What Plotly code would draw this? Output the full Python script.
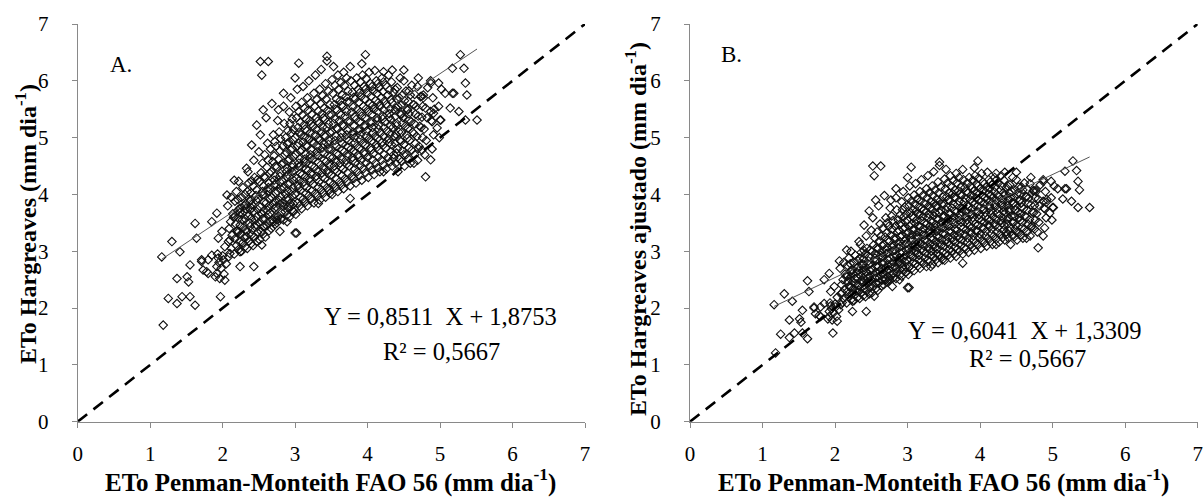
import plotly.graph_objects as go

# ---------------- data ----------------
# ETo Penman-Monteith (x), ETo Hargreaves (yA), ETo Hargreaves ajustado (yB)
xA = [
    1.16, 1.18, 1.25, 1.37, 1.44, 1.55, 1.62, 1.30, 1.41, 1.64, 1.62, 1.37, 1.51, 1.53, 1.55, 1.71, 1.73, 1.80, 1.97, 2.24, 2.43,
    1.71, 1.92, 1.90, 2.03, 1.94, 1.85, 2.06, 2.22, 1.85, 1.92, 1.94, 1.99, 2.03, 2.10, 2.08, 2.24, 2.20, 2.33, 2.45, 2.56,
    2.54, 2.75, 2.79, 3.00, 2.84, 2.98, 2.24, 2.38, 2.17, 2.01, 1.80, 1.78, 1.92, 1.95, 1.98, 2.00, 1.93, 2.05, 2.02, 1.96,
    2.33, 2.40, 2.47, 2.56, 2.52, 2.63, 2.54, 3.05, 2.84, 2.77, 3.44, 3.97, 5.28, 5.33, 5.35, 5.37, 5.51, 5.19, 5.14, 5.26,
    4.87, 4.80, 4.64, 5.00, 4.91, 3.76, 3.48, 3.32, 3.02, 2.89, 2.70, 2.93, 4.22, 4.36, 5.17, 5.07, 5.17, 5.35, 4.87, 4.98,
    4.70, 4.50, 4.34, 4.22, 4.77, 4.87, 4.96, 4.89, 4.70, 4.50,
    2.08, 2.12, 2.10, 2.13, 2.09, 2.11, 2.14, 2.07, 2.12,
    2.16, 2.19, 2.17, 2.20, 2.18, 2.15, 2.21, 2.17, 2.19, 2.16,
    2.26, 2.28, 2.25, 2.29, 2.27, 2.24, 2.30, 2.26, 2.28,
    2.34, 2.36, 2.33, 2.37, 2.35, 2.32, 2.38, 2.34, 2.36, 2.35,
    2.42, 2.44, 2.41, 2.45, 2.43, 2.40, 2.46, 2.42, 2.44, 2.43,
    2.51, 2.53, 2.50, 2.54, 2.52, 2.49, 2.55, 2.51, 2.53, 2.50, 2.52,
    2.59, 2.61, 2.58, 2.62, 2.60, 2.57, 2.63, 2.59, 2.61, 2.58, 2.62, 2.60,
    2.67, 2.69, 2.66, 2.70, 2.68, 2.65, 2.71, 2.67, 2.69, 2.66, 2.70, 2.68,
    2.75, 2.77, 2.74, 2.78, 2.76, 2.73, 2.79, 2.75, 2.77, 2.74, 2.78, 2.76,
    2.84, 2.86, 2.83, 2.87, 2.85, 2.82, 2.88, 2.84, 2.86, 2.83, 2.87, 2.85, 2.84,
    2.92, 2.94, 2.91, 2.95, 2.93, 2.90, 2.96, 2.92, 2.94, 2.91, 2.95, 2.93, 2.92, 2.94,
    3.01, 3.03, 3.00, 3.04, 3.02, 2.99, 3.05, 3.01, 3.03, 3.00, 3.04, 3.02, 3.01, 3.03, 3.00,
    3.09, 3.11, 3.08, 3.12, 3.10, 3.07, 3.13, 3.09, 3.11, 3.08, 3.12, 3.10, 3.09, 3.11,
    3.17, 3.19, 3.16, 3.20, 3.18, 3.15, 3.21, 3.17, 3.19, 3.16, 3.20, 3.18, 3.17, 3.19,
    3.26, 3.28, 3.25, 3.29, 3.27, 3.24, 3.30, 3.26, 3.28, 3.25, 3.29, 3.27, 3.26, 3.28,
    3.34, 3.36, 3.33, 3.37, 3.35, 3.32, 3.38, 3.34, 3.36, 3.33, 3.37, 3.35, 3.34, 3.36,
    3.42, 3.44, 3.41, 3.45, 3.43, 3.40, 3.46, 3.42, 3.44, 3.41, 3.45, 3.43, 3.42, 3.44,
    3.51, 3.53, 3.50, 3.54, 3.52, 3.49, 3.55, 3.51, 3.53, 3.50, 3.54, 3.52, 3.51, 3.53,
    3.59, 3.61, 3.58, 3.62, 3.60, 3.57, 3.63, 3.59, 3.61, 3.58, 3.62, 3.60, 3.59,
    3.67, 3.69, 3.66, 3.70, 3.68, 3.65, 3.71, 3.67, 3.69, 3.66, 3.70, 3.68, 3.67,
    3.76, 3.78, 3.75, 3.79, 3.77, 3.74, 3.80, 3.76, 3.78, 3.75, 3.79, 3.77, 3.76,
    3.84, 3.86, 3.83, 3.87, 3.85, 3.82, 3.88, 3.84, 3.86, 3.83, 3.87, 3.85,
    3.92, 3.94, 3.91, 3.95, 3.93, 3.90, 3.96, 3.92, 3.94, 3.91, 3.95, 3.93, 3.92,
    4.01, 4.03, 4.00, 4.04, 4.02, 3.99, 4.05, 4.01, 4.03, 4.00, 4.04, 4.02,
    4.09, 4.11, 4.08, 4.12, 4.10, 4.07, 4.13, 4.09, 4.11, 4.08, 4.12, 4.10,
    4.17, 4.19, 4.16, 4.20, 4.18, 4.15, 4.21, 4.17, 4.19, 4.16, 4.20,
    4.26, 4.28, 4.25, 4.29, 4.27, 4.24, 4.30, 4.26, 4.28, 4.25, 4.29,
    4.34, 4.36, 4.33, 4.37, 4.35, 4.32, 4.38, 4.34, 4.36, 4.33,
    4.42, 4.44, 4.41, 4.45, 4.43, 4.40, 4.46, 4.42, 4.44, 4.41, 4.45,
    4.51, 4.53, 4.50, 4.54, 4.52, 4.49, 4.55, 4.51, 4.53, 4.50,
    4.59, 4.61, 4.58, 4.62, 4.60, 4.57, 4.63, 4.59, 4.61,
    4.69, 4.71, 4.68, 4.72, 4.70, 4.67, 4.73, 4.69,
    4.79, 4.81, 4.78, 4.82, 4.80, 4.77, 4.83,
    4.89, 4.91, 4.88, 4.92, 4.90, 4.87,
    4.99, 5.01, 4.98, 5.02,
]

yA = [
    2.90, 1.70, 2.17, 2.08, 2.20, 2.20, 2.05, 3.17, 2.99, 3.23, 3.49, 2.52, 2.55, 2.46, 2.76, 2.82, 2.67, 2.61, 2.20, 2.73, 2.73,
    2.85, 2.73, 2.55, 2.49, 2.88, 2.93, 3.99, 4.23, 3.52, 3.67, 3.23, 3.35, 3.08, 2.96, 3.17, 2.99, 3.37, 3.26, 3.43, 3.43,
    3.11, 3.55, 3.35, 3.32, 3.79, 3.70, 3.76, 3.73, 3.61, 2.85, 2.85, 2.64, 2.61, 2.80, 2.70, 2.92, 2.95, 2.78, 2.60, 2.52,
    4.46, 4.87, 5.22, 5.49, 6.34, 6.34, 6.10, 6.31, 5.78, 5.49, 6.43, 6.46, 6.46, 6.22, 5.96, 5.75, 5.31, 5.78, 5.52, 5.46,
    4.61, 4.31, 4.55, 5.31, 5.43, 3.93, 4.02, 3.84, 3.32, 3.52, 3.52, 3.84, 4.40, 4.64, 6.22, 5.78, 5.78, 5.31, 5.96, 5.96,
    6.05, 6.19, 6.19, 6.16, 5.75, 5.46, 5.17, 5.28, 4.81, 4.70,
    2.90, 3.05, 3.20, 3.28, 3.40, 3.52, 3.66, 3.80, 3.95,
    2.95, 3.10, 3.22, 3.35, 3.48, 3.60, 3.72, 3.88, 4.05, 4.25,
    3.00, 3.15, 3.30, 3.42, 3.55, 3.68, 3.80, 3.95, 4.12,
    3.05, 3.18, 3.35, 3.50, 3.62, 3.75, 3.90, 4.05, 4.20, 4.40,
    3.10, 3.25, 3.38, 3.55, 3.70, 3.82, 3.98, 4.15, 4.30, 4.60,
    3.20, 3.35, 3.50, 3.65, 3.78, 3.92, 4.05, 4.22, 4.38, 4.75, 5.05,
    3.25, 3.45, 3.58, 3.72, 3.85, 4.00, 4.12, 4.30, 4.48, 4.70, 4.90, 5.35,
    3.40, 3.55, 3.68, 3.82, 3.95, 4.10, 4.25, 4.40, 4.58, 4.80, 5.05, 5.60,
    3.50, 3.62, 3.78, 3.90, 4.05, 4.18, 4.32, 4.48, 4.62, 4.85, 5.10, 5.30,
    3.55, 3.70, 3.85, 4.00, 4.12, 4.25, 4.40, 4.55, 4.70, 4.85, 5.00, 5.25, 5.55,
    3.60, 3.78, 3.92, 4.05, 4.20, 4.35, 4.48, 4.62, 4.78, 4.92, 5.08, 5.25, 5.45, 5.70,
    3.65, 3.85, 4.00, 4.15, 4.28, 4.42, 4.55, 4.70, 4.85, 5.00, 5.18, 5.35, 5.55, 5.85, 6.05,
    3.75, 3.92, 4.08, 4.22, 4.35, 4.50, 4.62, 4.78, 4.92, 5.05, 5.22, 5.40, 5.62, 5.90,
    3.80, 3.98, 4.12, 4.28, 4.42, 4.55, 4.70, 4.85, 4.98, 5.12, 5.30, 5.48, 5.70, 6.00,
    3.85, 4.02, 4.18, 4.32, 4.48, 4.62, 4.75, 4.90, 5.05, 5.20, 5.35, 5.55, 5.78, 6.10,
    3.90, 4.08, 4.22, 4.38, 4.52, 4.68, 4.82, 4.95, 5.10, 5.25, 5.42, 5.60, 5.85, 6.20,
    3.95, 4.12, 4.28, 4.42, 4.58, 4.72, 4.88, 5.02, 5.18, 5.32, 5.48, 5.68, 5.95, 6.35,
    4.00, 4.18, 4.35, 4.50, 4.65, 4.80, 4.95, 5.10, 5.25, 5.40, 5.58, 5.78, 6.02, 6.25,
    4.05, 4.22, 4.40, 4.55, 4.70, 4.85, 5.00, 5.15, 5.30, 5.48, 5.65, 5.85, 6.10,
    4.10, 4.28, 4.45, 4.60, 4.75, 4.90, 5.05, 5.20, 5.38, 5.55, 5.72, 5.92, 6.15,
    4.15, 4.32, 4.50, 4.65, 4.80, 4.95, 5.10, 5.28, 5.45, 5.62, 5.80, 6.00, 6.25,
    4.20, 4.40, 4.55, 4.70, 4.85, 5.00, 5.15, 5.32, 5.50, 5.68, 5.85, 6.05,
    4.25, 4.45, 4.60, 4.75, 4.90, 5.05, 5.22, 5.38, 5.55, 5.72, 5.90, 6.10, 6.30,
    4.30, 4.50, 4.65, 4.82, 4.98, 5.12, 5.28, 5.45, 5.60, 5.78, 5.95, 6.15,
    4.35, 4.55, 4.72, 4.88, 5.02, 5.18, 5.35, 5.50, 5.65, 5.82, 6.00, 6.18,
    4.40, 4.60, 4.78, 4.92, 5.08, 5.22, 5.38, 5.55, 5.70, 5.88, 6.05,
    4.45, 4.65, 4.82, 4.98, 5.12, 5.28, 5.42, 5.58, 5.75, 5.92, 6.10,
    4.50, 4.70, 4.88, 5.02, 5.18, 5.32, 5.48, 5.62, 5.80, 5.98,
    4.40, 4.62, 4.80, 4.95, 5.10, 5.25, 5.40, 5.55, 5.70, 5.88, 6.05,
    4.50, 4.70, 4.88, 5.05, 5.20, 5.35, 5.50, 5.65, 5.82, 6.00,
    4.55, 4.78, 4.95, 5.10, 5.28, 5.42, 5.58, 5.75, 5.92,
    4.60, 4.85, 5.02, 5.20, 5.38, 5.55, 5.72, 5.90,
    4.70, 4.95, 5.15, 5.35, 5.52, 5.70, 5.88,
    4.80, 5.05, 5.30, 5.50, 5.70, 6.00,
    5.00, 5.31, 5.55, 5.85,
]

yB = [
    2.06, 1.21, 1.54, 1.48, 1.56, 1.56, 1.46, 2.25, 2.12, 2.29, 2.48, 1.79, 1.81, 1.75, 1.96, 2.00, 1.90, 1.85, 1.56, 1.94, 1.94,
    2.02, 1.94, 1.81, 1.77, 2.04, 2.08, 2.83, 3.00, 2.50, 2.61, 2.29, 2.38, 2.19, 2.10, 2.25, 2.12, 2.39, 2.31, 2.44, 2.44,
    2.21, 2.52, 2.38, 2.36, 2.69, 2.63, 2.67, 2.65, 2.56, 2.02, 2.02, 1.87, 1.85, 1.99, 1.92, 2.07, 2.09, 1.97, 1.85, 1.79,
    3.17, 3.46, 3.71, 3.90, 4.50, 4.50, 4.33, 4.48, 4.10, 3.90, 4.57, 4.59, 4.59, 4.42, 4.23, 4.08, 3.77, 4.10, 3.92, 3.88,
    3.27, 3.06, 3.23, 3.77, 3.86, 2.79, 2.85, 2.73, 2.36, 2.50, 2.50, 2.73, 3.12, 3.29, 4.41, 4.10, 4.10, 3.77, 4.23, 4.23,
    4.30, 4.39, 4.39, 4.37, 4.08, 3.88, 3.67, 3.75, 3.42, 3.34,
    2.06, 2.17, 2.27, 2.33, 2.41, 2.50, 2.60, 2.70, 2.80,
    2.09, 2.20, 2.29, 2.38, 2.47, 2.56, 2.64, 2.75, 2.88, 3.02,
    2.13, 2.24, 2.34, 2.43, 2.52, 2.61, 2.70, 2.80, 2.93,
    2.17, 2.26, 2.38, 2.49, 2.57, 2.66, 2.77, 2.88, 2.98, 3.12,
    2.20, 2.31, 2.40, 2.52, 2.63, 2.71, 2.83, 2.95, 3.05, 3.27,
    2.27, 2.38, 2.49, 2.59, 2.68, 2.78, 2.88, 3.00, 3.11, 3.37, 3.59,
    2.31, 2.45, 2.54, 2.64, 2.73, 2.84, 2.93, 3.05, 3.18, 3.34, 3.48, 3.80,
    2.41, 2.52, 2.61, 2.71, 2.80, 2.91, 3.02, 3.12, 3.25, 3.41, 3.59, 3.98,
    2.49, 2.57, 2.68, 2.77, 2.88, 2.97, 3.07, 3.18, 3.28, 3.44, 3.62, 3.76,
    2.52, 2.63, 2.73, 2.84, 2.93, 3.02, 3.12, 3.23, 3.34, 3.44, 3.55, 3.73, 3.94,
    2.56, 2.68, 2.78, 2.88, 2.98, 3.09, 3.18, 3.28, 3.39, 3.49, 3.61, 3.73, 3.87, 4.05,
    2.59, 2.73, 2.84, 2.95, 3.04, 3.14, 3.23, 3.34, 3.44, 3.55, 3.68, 3.80, 3.94, 4.15, 4.30,
    2.66, 2.78, 2.90, 3.00, 3.09, 3.20, 3.28, 3.39, 3.49, 3.59, 3.71, 3.83, 3.99, 4.19,
    2.70, 2.83, 2.93, 3.04, 3.14, 3.23, 3.34, 3.44, 3.54, 3.64, 3.76, 3.89, 4.05, 4.26,
    2.73, 2.85, 2.97, 3.07, 3.18, 3.28, 3.37, 3.48, 3.59, 3.69, 3.80, 3.94, 4.10, 4.33,
    2.77, 2.90, 3.00, 3.11, 3.21, 3.32, 3.42, 3.51, 3.62, 3.73, 3.85, 3.98, 4.15, 4.40,
    2.80, 2.93, 3.04, 3.14, 3.25, 3.35, 3.46, 3.56, 3.68, 3.78, 3.89, 4.03, 4.22, 4.51,
    2.84, 2.97, 3.09, 3.20, 3.30, 3.41, 3.51, 3.62, 3.73, 3.83, 3.96, 4.10, 4.27, 4.44,
    2.88, 3.00, 3.12, 3.23, 3.34, 3.44, 3.55, 3.66, 3.76, 3.89, 4.01, 4.15, 4.33,
    2.91, 3.04, 3.16, 3.27, 3.37, 3.48, 3.59, 3.69, 3.82, 3.94, 4.06, 4.20, 4.37,
    2.95, 3.07, 3.20, 3.30, 3.41, 3.51, 3.62, 3.75, 3.87, 3.99, 4.12, 4.26, 4.44,
    2.98, 3.12, 3.23, 3.34, 3.44, 3.55, 3.66, 3.78, 3.91, 4.03, 4.15, 4.30,
    3.02, 3.16, 3.27, 3.37, 3.48, 3.59, 3.71, 3.82, 3.94, 4.06, 4.19, 4.33, 4.47,
    3.05, 3.20, 3.30, 3.42, 3.54, 3.64, 3.75, 3.87, 3.98, 4.10, 4.22, 4.37,
    3.09, 3.23, 3.35, 3.46, 3.56, 3.68, 3.80, 3.91, 4.01, 4.13, 4.26, 4.39,
    3.12, 3.27, 3.39, 3.49, 3.61, 3.71, 3.82, 3.94, 4.05, 4.17, 4.30,
    3.16, 3.30, 3.42, 3.54, 3.64, 3.75, 3.85, 3.96, 4.08, 4.20, 4.33,
    3.20, 3.34, 3.46, 3.56, 3.68, 3.78, 3.89, 3.99, 4.12, 4.25,
    3.12, 3.28, 3.41, 3.51, 3.62, 3.73, 3.83, 3.94, 4.05, 4.17, 4.30,
    3.20, 3.34, 3.46, 3.59, 3.69, 3.80, 3.91, 4.01, 4.13, 4.26,
    3.23, 3.39, 3.51, 3.62, 3.75, 3.85, 3.96, 4.08, 4.20,
    3.27, 3.44, 3.56, 3.69, 3.82, 3.94, 4.06, 4.19,
    3.34, 3.51, 3.66, 3.80, 3.92, 4.05, 4.17,
    3.41, 3.59, 3.76, 3.91, 4.05, 4.26,
    3.55, 3.77, 3.94, 4.15,
]

# second set of points filling the dense core of the cloud
x_core = [
    2.22, 2.23, 2.21, 2.24, 2.22, 2.23, 2.21,
    2.31, 2.30, 2.32, 2.31, 2.30, 2.32, 2.31,
    2.39, 2.40, 2.38, 2.39, 2.40, 2.38, 2.39, 2.40,
    2.47, 2.48, 2.46, 2.47, 2.48, 2.46, 2.47, 2.48,
    2.56, 2.57, 2.55, 2.56, 2.57, 2.55, 2.56, 2.57, 2.55,
    2.64, 2.65, 2.63, 2.64, 2.65, 2.63, 2.64, 2.65, 2.63,
    2.72, 2.73, 2.71, 2.72, 2.73, 2.71, 2.72, 2.73, 2.71, 2.72,
    2.80, 2.81, 2.79, 2.80, 2.81, 2.79, 2.80, 2.81, 2.79, 2.80,
    2.89, 2.90, 2.88, 2.89, 2.90, 2.88, 2.89, 2.90, 2.88, 2.89, 2.90,
    2.97, 2.98, 2.96, 2.97, 2.98, 2.96, 2.97, 2.98, 2.96, 2.97, 2.98, 2.96,
    3.06, 3.07, 3.05, 3.06, 3.07, 3.05, 3.06, 3.07, 3.05, 3.06, 3.07, 3.05,
    3.14, 3.15, 3.13, 3.14, 3.15, 3.13, 3.14, 3.15, 3.13, 3.14, 3.15, 3.13,
    3.22, 3.23, 3.21, 3.22, 3.23, 3.21, 3.22, 3.23, 3.21, 3.22, 3.23, 3.21,
    3.31, 3.32, 3.30, 3.31, 3.32, 3.30, 3.31, 3.32, 3.30, 3.31, 3.32, 3.30,
    3.39, 3.40, 3.38, 3.39, 3.40, 3.38, 3.39, 3.40, 3.38, 3.39, 3.40, 3.38,
    3.47, 3.48, 3.46, 3.47, 3.48, 3.46, 3.47, 3.48, 3.46, 3.47, 3.48, 3.46,
    3.56, 3.57, 3.55, 3.56, 3.57, 3.55, 3.56, 3.57, 3.55, 3.56, 3.57, 3.55,
    3.64, 3.65, 3.63, 3.64, 3.65, 3.63, 3.64, 3.65, 3.63, 3.64, 3.65, 3.63,
    3.72, 3.73, 3.71, 3.72, 3.73, 3.71, 3.72, 3.73, 3.71, 3.72, 3.73, 3.71,
    3.81, 3.82, 3.80, 3.81, 3.82, 3.80, 3.81, 3.82, 3.80, 3.81, 3.82,
    3.89, 3.90, 3.88, 3.89, 3.90, 3.88, 3.89, 3.90, 3.88, 3.89, 3.90,
    3.97, 3.98, 3.96, 3.97, 3.98, 3.96, 3.97, 3.98, 3.96, 3.97, 3.98,
    4.06, 4.07, 4.05, 4.06, 4.07, 4.05, 4.06, 4.07, 4.05, 4.06,
    4.14, 4.15, 4.13, 4.14, 4.15, 4.13, 4.14, 4.15, 4.13, 4.14,
    4.22, 4.23, 4.21, 4.22, 4.23, 4.21, 4.22, 4.23, 4.21, 4.22,
    4.31, 4.32, 4.30, 4.31, 4.32, 4.30, 4.31, 4.32, 4.30,
    4.39, 4.40, 4.38, 4.39, 4.40, 4.38, 4.39, 4.40, 4.38,
    4.47, 4.48, 4.46, 4.47, 4.48, 4.46, 4.47, 4.48,
    4.56, 4.57, 4.55, 4.56, 4.57, 4.55, 4.56, 4.57,
    4.65, 4.66, 4.64, 4.65, 4.66, 4.64, 4.65,
    4.75, 4.76, 4.74, 4.75, 4.76, 4.74,
]

yA_core = [
    3.03, 3.17, 3.33, 3.46, 3.58, 3.74, 3.91,
    3.08, 3.24, 3.38, 3.57, 3.70, 3.84, 4.00,
    3.13, 3.29, 3.44, 3.58, 3.76, 3.88, 4.03, 4.24,
    3.17, 3.33, 3.47, 3.61, 3.74, 3.90, 4.08, 4.26,
    3.30, 3.43, 3.57, 3.71, 3.86, 3.99, 4.15, 4.31, 4.55,
    3.36, 3.52, 3.64, 3.79, 3.92, 4.06, 4.20, 4.37, 4.60,
    3.47, 3.60, 3.75, 3.88, 4.02, 4.17, 4.33, 4.50, 4.68, 4.93,
    3.57, 3.68, 3.83, 3.97, 4.09, 4.22, 4.37, 4.53, 4.77, 4.98,
    3.64, 3.77, 3.93, 4.07, 4.18, 4.31, 4.46, 4.59, 4.74, 4.89, 5.12,
    3.71, 3.83, 3.97, 4.12, 4.25, 4.40, 4.52, 4.66, 4.81, 4.96, 5.14, 5.33,
    3.80, 3.95, 4.11, 4.25, 4.37, 4.49, 4.63, 4.76, 4.90, 5.10, 5.27, 5.46,
    3.86, 4.02, 4.15, 4.31, 4.45, 4.58, 4.71, 4.86, 5.01, 5.15, 5.33, 5.52,
    3.92, 4.06, 4.23, 4.36, 4.51, 4.64, 4.79, 4.93, 5.08, 5.24, 5.41, 5.61,
    3.97, 4.13, 4.27, 4.41, 4.56, 4.70, 4.85, 4.99, 5.14, 5.29, 5.47, 5.67,
    4.02, 4.17, 4.31, 4.46, 4.61, 4.75, 4.89, 5.04, 5.19, 5.35, 5.52, 5.74,
    4.07, 4.21, 4.37, 4.51, 4.66, 4.80, 4.95, 5.09, 5.24, 5.40, 5.58, 5.82,
    4.12, 4.27, 4.43, 4.58, 4.72, 4.88, 5.03, 5.17, 5.33, 5.50, 5.68, 5.92,
    4.16, 4.33, 4.48, 4.63, 4.78, 4.93, 5.08, 5.23, 5.40, 5.57, 5.75, 5.97,
    4.22, 4.37, 4.53, 4.68, 4.83, 4.98, 5.13, 5.29, 5.46, 5.63, 5.82, 6.05,
    4.28, 4.45, 4.60, 4.76, 4.91, 5.06, 5.21, 5.37, 5.54, 5.71, 5.92,
    4.33, 4.51, 4.66, 4.81, 4.97, 5.12, 5.28, 5.45, 5.62, 5.79, 5.98,
    4.38, 4.56, 4.71, 4.87, 5.03, 5.19, 5.35, 5.51, 5.68, 5.85, 6.04,
    4.43, 4.61, 4.78, 4.94, 5.09, 5.25, 5.41, 5.57, 5.73, 5.90,
    4.47, 4.66, 4.83, 4.99, 5.15, 5.30, 5.46, 5.62, 5.78, 5.95,
    4.52, 4.70, 4.86, 5.02, 5.17, 5.33, 5.49, 5.64, 5.81, 5.98,
    4.57, 4.75, 4.91, 5.06, 5.21, 5.36, 5.51, 5.67, 5.84,
    4.55, 4.73, 4.90, 5.06, 5.21, 5.37, 5.53, 5.68, 5.85,
    4.58, 4.77, 4.93, 5.09, 5.25, 5.42, 5.58, 5.75,
    4.63, 4.82, 4.99, 5.16, 5.32, 5.48, 5.64, 5.82,
    4.70, 4.90, 5.07, 5.24, 5.41, 5.58, 5.76,
    4.78, 5.00, 5.18, 5.36, 5.55, 5.73,
]

yB_core = [
    2.15, 2.25, 2.36, 2.46, 2.54, 2.66, 2.78,
    2.19, 2.30, 2.40, 2.53, 2.63, 2.73, 2.84,
    2.22, 2.34, 2.44, 2.54, 2.67, 2.75, 2.86, 3.01,
    2.25, 2.36, 2.46, 2.56, 2.66, 2.77, 2.90, 3.02,
    2.34, 2.44, 2.53, 2.63, 2.74, 2.83, 2.95, 3.06, 3.23,
    2.39, 2.50, 2.58, 2.69, 2.78, 2.88, 2.98, 3.10, 3.27,
    2.46, 2.56, 2.66, 2.75, 2.85, 2.96, 3.07, 3.20, 3.32, 3.50,
    2.53, 2.61, 2.72, 2.82, 2.90, 3.00, 3.10, 3.22, 3.39, 3.54,
    2.58, 2.68, 2.79, 2.89, 2.97, 3.06, 3.17, 3.26, 3.37, 3.47, 3.64,
    2.63, 2.72, 2.82, 2.93, 3.02, 3.12, 3.21, 3.31, 3.42, 3.52, 3.65, 3.78,
    2.70, 2.80, 2.92, 3.02, 3.10, 3.19, 3.29, 3.38, 3.48, 3.62, 3.74, 3.88,
    2.74, 2.85, 2.95, 3.06, 3.16, 3.25, 3.34, 3.45, 3.56, 3.66, 3.78, 3.92,
    2.78, 2.88, 3.00, 3.10, 3.20, 3.29, 3.40, 3.50, 3.61, 3.72, 3.84, 3.98,
    2.82, 2.93, 3.03, 3.13, 3.24, 3.34, 3.44, 3.54, 3.65, 3.76, 3.88, 4.03,
    2.85, 2.96, 3.06, 3.17, 3.27, 3.37, 3.47, 3.58, 3.68, 3.80, 3.92, 4.08,
    2.89, 2.99, 3.10, 3.20, 3.31, 3.41, 3.51, 3.61, 3.72, 3.83, 3.96, 4.13,
    2.93, 3.03, 3.15, 3.25, 3.35, 3.46, 3.57, 3.67, 3.78, 3.91, 4.03, 4.20,
    2.95, 3.07, 3.18, 3.29, 3.39, 3.50, 3.61, 3.71, 3.83, 3.95, 4.08, 4.24,
    3.00, 3.10, 3.22, 3.32, 3.43, 3.54, 3.64, 3.76, 3.88, 4.00, 4.13, 4.30,
    3.04, 3.16, 3.27, 3.38, 3.49, 3.59, 3.70, 3.81, 3.93, 4.05, 4.20,
    3.07, 3.20, 3.31, 3.42, 3.53, 3.64, 3.75, 3.87, 3.99, 4.11, 4.25,
    3.11, 3.24, 3.34, 3.46, 3.57, 3.68, 3.80, 3.91, 4.03, 4.15, 4.29,
    3.15, 3.27, 3.39, 3.51, 3.61, 3.73, 3.84, 3.95, 4.07, 4.19,
    3.17, 3.31, 3.43, 3.54, 3.66, 3.76, 3.88, 3.99, 4.10, 4.22,
    3.21, 3.34, 3.45, 3.56, 3.67, 3.78, 3.90, 4.00, 4.13, 4.25,
    3.24, 3.37, 3.49, 3.59, 3.70, 3.81, 3.91, 4.03, 4.15,
    3.23, 3.36, 3.48, 3.59, 3.70, 3.81, 3.93, 4.03, 4.15,
    3.25, 3.39, 3.50, 3.61, 3.73, 3.85, 3.96, 4.08,
    3.29, 3.42, 3.54, 3.66, 3.78, 3.89, 4.00, 4.13,
    3.34, 3.48, 3.60, 3.72, 3.84, 3.96, 4.09,
    3.39, 3.55, 3.68, 3.81, 3.94, 4.07,
]

# trend lines (end points) and 1:1 reference line
trend_x = [1.16, 5.51]
trendA_y = [2.86, 6.56]
trendB_y = [2.03, 4.66]
ref_xy = [0, 7]
tick_vals = [0, 1, 2, 3, 4, 5, 6, 7]

eqA = ["Y = 0,8511  X + 1,8753", "R² = 0,5667"]
eqB = ["Y = 0,6041  X + 1,3309", "R² = 0,5667"]

# ---------------- figure ----------------
W, H = 1203, 498
SERIF = "Liberation Serif, Times New Roman, serif"
marker = dict(symbol="diamond-open", size=6.5, color="#111111", line=dict(width=1.1, color="#111111"))

fig = go.Figure()
for xa, ya, ys, ysc, ty in (("x", "y", yA, yA_core, trendA_y), ("x2", "y2", yB, yB_core, trendB_y)):
    fig.add_trace(go.Scatter(x=xA + x_core, y=ys + ysc, mode="markers", marker=marker,
                             xaxis=xa, yaxis=ya, hoverinfo="x+y"))
    fig.add_trace(go.Scatter(x=trend_x, y=ty, mode="lines",
                             line=dict(color="#555555", width=1), xaxis=xa, yaxis=ya))
    fig.add_trace(go.Scatter(x=ref_xy, y=ref_xy, mode="lines",
                             line=dict(color="black", width=2.6, dash="12px,8px"),
                             xaxis=xa, yaxis=ya))

axis_common = dict(range=[0, 7], tickvals=tick_vals, showline=True, linecolor="#898989",
                   linewidth=1, ticks="outside", ticklen=5, tickcolor="#898989",
                   showgrid=False, zeroline=False, automargin=False,
                   tickfont=dict(family=SERIF, size=21, color="black"))

ydom = [1 - 421.7 / H, 1 - 24 / H]
fig.update_layout(
    width=W, height=H, margin=dict(l=0, r=0, t=0, b=0, autoexpand=False),
    paper_bgcolor="white", plot_bgcolor="white", showlegend=False,
    xaxis=dict(domain=[77.7 / W, 585 / W], anchor="y", ticklabelstandoff=8, **axis_common),
    yaxis=dict(domain=ydom, anchor="x", ticklabelstandoff=19, **axis_common),
    xaxis2=dict(domain=[690 / W, 1197.7 / W], anchor="y2", ticklabelstandoff=8, **axis_common),
    yaxis2=dict(domain=ydom, anchor="x2", ticklabelstandoff=19, **axis_common),
)

def ann(text, x, y, xref="paper", yref="paper", size=21, bold=False, angle=0):
    if bold:
        text = "<b>" + text + "</b>"
    fig.add_annotation(text=text, x=x, y=y, xref=xref, yref=yref, showarrow=False,
                       xanchor="center", yanchor="middle", textangle=angle,
                       font=dict(family=SERIF, size=size, color="black"))

# axis titles (paper coordinates)
ann("ETo Penman-Monteith FAO 56 (mm dia<sup>-1</sup>)", 330 / W, 1 - 480 / H, size=25, bold=True)
ann("ETo Penman-Monteith FAO 56 (mm dia<sup>-1</sup>)", 943 / W, 1 - 480 / H, size=25, bold=True)
ann("ETo Hargreaves (mm dia<sup>-1</sup>)", 26 / W, 1 - 224 / H, size=24, bold=True, angle=-90)
ann("ETo Hargreaves ajustado (mm dia<sup>-1</sup>)", 636 / W, 1 - 229 / H, size=24, bold=True, angle=-90)

# panel labels and equations (data coordinates)
ann("A.", 0.6, 6.28, "x", "y", size=23)
ann("B.", 0.57, 6.46, "x2", "y2", size=23)
ann(eqA[0], 5.0, 1.86, "x", "y", size=24.5)
ann(eqA[1], 5.02, 1.23, "x", "y", size=24.5)
ann(eqB[0], 4.62, 1.61, "x2", "y2", size=24.5)
ann(eqB[1], 4.66, 1.12, "x2", "y2", size=24.5)

# the page body has a default 8px margin: remove it so the figure fills the window
fig.write_html("out.html", config={"displayModeBar": False},
               post_script="document.body.style.margin='0px';document.body.style.overflow='hidden';")
